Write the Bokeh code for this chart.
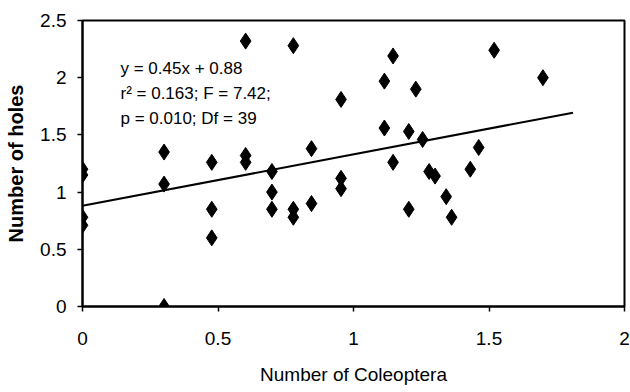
from bokeh.plotting import figure
from bokeh.models import Range1d, FixedTicker, Label
from bokeh.embed import file_html
from bokeh.resources import INLINE

# Data (x = log-transformed number of Coleoptera, y = number of holes)
coleoptera = [0, 0, 0, 0,
              0.301, 0.301, 0.301,
              0.477, 0.477, 0.477,
              0.602, 0.602, 0.602,
              0.699, 0.699, 0.699,
              0.778, 0.778, 0.778,
              0.845, 0.845,
              0.954, 0.954, 0.954,
              1.114, 1.114,
              1.146, 1.146,
              1.204, 1.204,
              1.230, 1.255, 1.279, 1.301, 1.342, 1.362, 1.431, 1.462, 1.519, 1.699]
holes = [1.20, 1.15, 0.78, 0.71,
         1.35, 1.07, 0.0,
         1.26, 0.85, 0.60,
         2.32, 1.32, 1.26,
         1.18, 1.00, 0.85,
         2.28, 0.85, 0.78,
         1.38, 0.90,
         1.81, 1.12, 1.03,
         1.97, 1.56,
         2.19, 1.26,
         1.53, 0.85,
         1.90, 1.46, 1.18, 1.14, 0.96, 0.78, 1.20, 1.39, 2.24, 2.00]

slope = 0.45
intercept = 0.88
fit_x = [0, 1.81]
fit_y = [intercept + slope * v for v in fit_x]

x_ticks = [0, 0.5, 1, 1.5, 2]
y_ticks = [0, 0.5, 1, 1.5, 2, 2.5]
eq_lines = ["y = 0.45x + 0.88", "r² = 0.163; F = 7.42;", "p = 0.010; Df = 39"]

FONT = "Liberation Sans"

p = figure(width=630, height=392, output_backend="svg", toolbar_location=None,
           x_range=Range1d(0, 2), y_range=Range1d(0, 2.5),
           min_border_left=82, min_border_right=6, min_border_top=20, min_border_bottom=86)
p.grid.visible = False
p.outline_line_color = "black"
p.outline_line_width = 2
p.background_fill_color = "white"
p.border_fill_color = "white"

for ax in (p.xaxis[0], p.yaxis[0]):
    ax.axis_line_width = 2
    ax.axis_line_color = "black"
    ax.major_tick_out = 5
    ax.major_tick_in = 0
    ax.minor_tick_out = 0
    ax.minor_tick_in = 0
    ax.major_tick_line_width = 1.5
    ax.major_label_text_font = FONT
    ax.major_label_text_font_size = "19px"
    ax.major_label_text_color = "black"
    ax.axis_label_text_font = FONT
    ax.axis_label_text_font_size = "19px"
    ax.axis_label_text_font_style = "normal"
    ax.axis_label_text_color = "black"

p.xaxis.ticker = FixedTicker(ticks=x_ticks)
p.yaxis.ticker = FixedTicker(ticks=y_ticks)
p.xaxis.major_label_overrides = {0: "0", 0.5: "0.5", 1: "1", 1.5: "1.5", 2: "2"}
p.yaxis.major_label_overrides = {0: "0", 0.5: "0.5", 1: "1", 1.5: "1.5", 2: "2", 2.5: "2.5"}
p.xaxis.major_label_standoff = 20
p.yaxis.major_label_standoff = 11
p.xaxis.axis_label = "Number of Coleoptera"
p.yaxis.axis_label = "Number of holes"
p.xaxis.axis_label_standoff = 16
p.yaxis.axis_label_standoff = 10
p.yaxis.axis_label_text_font_style = "bold"
p.yaxis.axis_label_text_font_size = "20px"

p.line(fit_x, fit_y, line_color="black", line_width=2)
p.scatter(coleoptera, holes, marker="diamond", size=16, fill_color="black",
          line_color="black", line_width=1)

for i, t in enumerate(eq_lines):
    p.add_layout(Label(x=38, y=238 - i * 25, x_units="screen", y_units="screen",
                       text=t, text_font=FONT, text_font_size="17px",
                       text_color="black", text_baseline="middle"))

open("out.html", "w").write(file_html(p, INLINE))
